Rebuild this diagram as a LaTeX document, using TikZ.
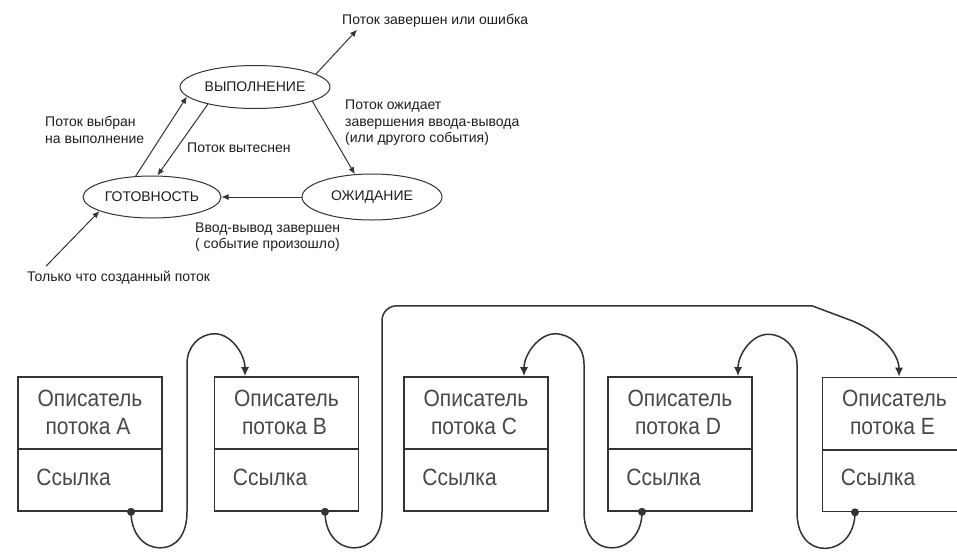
\documentclass[tikz,border=0pt]{standalone}
\usepackage{fontspec}
\setmainfont{Liberation Sans}
\usetikzlibrary{shapes.geometric,arrows.meta,calc}
\definecolor{ln}{HTML}{333333}
\definecolor{tx}{HTML}{1E1E1E}
\definecolor{bt}{HTML}{484848}
\begin{document}
\begin{tikzpicture}[x=1pt,y=-1pt,
  st/.style={ellipse, draw=ln, line width=1pt, inner sep=0pt, text=tx,
             font=\fontsize{14}{16}\selectfont},
  lbl/.style={inner sep=0pt, text=tx, align=left, font=\fontsize{14}{16.5}\selectfont},
  ta/.style={draw=ln, line width=1pt, -{Latex[length=7pt,width=6pt]}},
  box/.style={draw=ln, line width=1.6pt, minimum width=144pt, minimum height=134pt, inner sep=0pt},
  btx/.style={inner sep=0pt, text=bt, font=\fontsize{21}{25}\selectfont},
  lk/.style={draw=ln, line width=1.5pt, -{Latex[length=9pt,width=8pt]}},
  dotc/.style={fill=ln}
]
\useasboundingbox (0,0) rectangle (957,557);
\fill[white] (0,0) rectangle (957,557);

% ---------- state diagram ----------
\node[st, minimum width=150pt, minimum height=43pt] (run) at (255,87) {ВЫПОЛНЕНИЕ};
\node[st, minimum width=138pt, minimum height=42pt] (rdy) at (152,197) {ГОТОВНОСТЬ};
\node[st, minimum width=140pt, minimum height=46pt] (wait) at (372,197) {ОЖИДАНИЕ};

\node[lbl, anchor=west] (fin) at (342,21) {Поток завершен или ошибка};
\node[lbl, anchor=west] (wl) at (345,123) {Поток ожидает\\завершения ввода-вывода\\(или другого события)};
\node[lbl, anchor=west] (vyt) at (187,148) {Поток вытеснен};
\node[lbl, anchor=west] (vyb) at (45,130) {Поток выбран\\на выполнение};
\node[lbl, anchor=west] (io) at (195,237) {Ввод-вывод завершен\\( событие произошло)};
\node[lbl, anchor=west] (new) at (27,278) {Только что созданный поток};

\coordinate (finT) at ($(fin.south west)+(15,2)$);
\coordinate (newS) at ($(new.north west)+(19,-5)$);
\draw[ta] (run.12) -- (finT);
\draw[ta] (run.-14) -- (wait.127);
\draw[ta] (run.200) -- (rdy.76);
\draw[ta] (rdy.128) -- (run.188);
\draw[ta] (wait.west) -- (rdy.east);
\draw[ta] (newS) -- (rdy.195);

% ---------- descriptor list ----------
\foreach \n/\cx/\cy/\l in {A/90/444/A, B/286.5/444/B, C/476/444/C, D/680/444/D, E/894.5/444.5/E}{
  \node[box] (\n) at (\cx,\cy) {};
  \draw[draw=ln, line width=1.6pt] ($(\n.north west)+(0,73)$) -- ($(\n.north east)+(0,73)$);
  \node[btx] (\n1) at ($(\n.north)+(0,22)$) {\scalebox{1}[1.12]{Описатель}};
  \node[btx] (\n2) at ($(\n.north)+(-2,50)$) {\scalebox{1}[1.12]{потока \l}};
  \node[btx, anchor=west] (\n3) at ($(\n.north west)+(19,101)$) {\scalebox{1}[1.12]{Ссылка}};
}

\coordinate (Ao) at ($(A.south)+(41,0)$);
\coordinate (Bo) at ($(B.south)+(38.5,0)$);
\coordinate (Do) at ($(D.south)+(-38,0)$);
\coordinate (Eo) at ($(E.south)+(-39.5,0)$);
\coordinate (Bi) at ($(B.north)+(-41.5,0)$);
\coordinate (Ci) at ($(C.north)+(48,0)$);
\coordinate (Di) at ($(D.north)+(58,0)$);
\coordinate (Ei) at ($(E.north)+(4.5,0)$);

% A -> B
\draw[lk] (Ao) .. controls +(0,22) and +(-16,0) .. ++(29,36)
  .. controls +(17,0) and +(0,22) .. ++(27,-36)
  -- ++(0,-148)
  .. controls +(0,-17) and +(-16,0) .. ++(28,-30)
  .. controls +(16,0) and +(0,-22) .. (Bi);
% B -> E
\draw[lk] (Bo) .. controls +(0,22) and +(-16,0) .. ++(29,36)
  .. controls +(17,0) and +(0,22) .. ++(28,-36)
  -- ++(0,-191)
  .. controls +(0,-9) and +(-8,0) .. ++(15,-15)
  -- ++(415,0)
  -- ++(40,15)
  .. controls +(30,12) and +(0,-22) .. (Ei);
% D -> C
\draw[lk] (Do) .. controls +(0,22) and +(16,0) .. ++(-30,36)
  .. controls +(-17,0) and +(0,22) .. ++(-28,-36)
  -- ++(0,-148)
  .. controls +(0,-17) and +(16,0) .. ++(-29,-30)
  .. controls +(-16,0) and +(0,-22) .. (Ci);
% E -> D
\draw[lk] (Eo) .. controls +(0,22) and +(16,0) .. ++(-30,36)
  .. controls +(-17,0) and +(0,22) .. ++(-28,-36)
  -- ++(0,-148)
  .. controls +(0,-17) and +(16,0) .. ++(-29,-30)
  .. controls +(-16,0) and +(0,-22) .. (Di);

\foreach \p in {Ao,Bo,Do,Eo}{ \fill[dotc] (\p) circle (4pt); }
\end{tikzpicture}
\end{document}
